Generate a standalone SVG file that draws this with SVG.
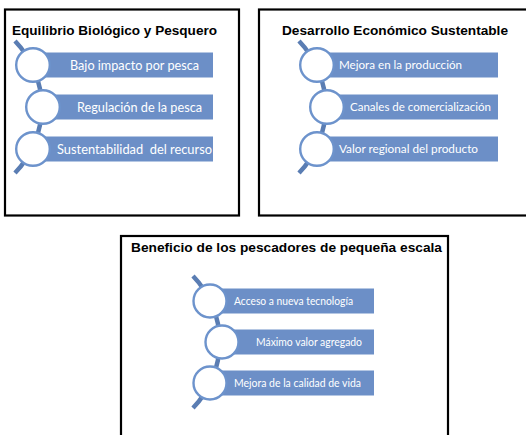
<svg xmlns="http://www.w3.org/2000/svg" width="526" height="435" viewBox="0 0 526 435">
<style>
.frame{fill:#fff;stroke:#000;stroke-width:2.2}
.title{font-family:"Liberation Sans",Arial,sans-serif;font-weight:bold;fill:#000}
.bar{fill:#6c8fc7}
.ring{fill:#fff;stroke:#6d93cc;stroke-width:2.4}
.spine{fill:none;stroke:#5a7db3;stroke-width:4.5}
.lbl{font-family:Lato,"Open Sans",sans-serif;fill:#fff}
</style>
<rect width="526" height="435" fill="#fff"/>
<g id="panel1">
<rect class="frame" x="5" y="9.5" width="234" height="206"/>
<text class="title" x="12" y="35" font-size="12" textLength="205" lengthAdjust="spacingAndGlyphs">Equilibrio Biológico y Pesquero</text>
<path class="spine" d="M15,41 A95,95 0 0 1 15,173"/>
<rect class="bar" x="33" y="52.5" width="180" height="25"/>
<rect class="bar" x="43" y="94.5" width="170" height="25"/>
<rect class="bar" x="33" y="136.5" width="180" height="25"/>
<circle class="ring" cx="33" cy="65" r="16.8"/>
<circle class="ring" cx="43" cy="107" r="16.8"/>
<circle class="ring" cx="33" cy="149" r="16.8"/>
<text class="lbl" x="70" y="69.5" font-size="12.5" textLength="129" lengthAdjust="spacingAndGlyphs">Bajo impacto por pesca</text>
<text class="lbl" x="77" y="111.5" font-size="12.5" textLength="125" lengthAdjust="spacingAndGlyphs">Regulación de la pesca</text>
<text class="lbl" x="57" y="153.5" font-size="12.5" textLength="155" lengthAdjust="spacingAndGlyphs" xml:space="preserve">Sustentabilidad  del recurso</text>
</g>
<g id="panel2">
<rect class="frame" x="259" y="9.5" width="280" height="206"/>
<text class="title" x="282" y="35" font-size="12" textLength="226" lengthAdjust="spacingAndGlyphs">Desarrollo Económico Sustentable</text>
<path class="spine" d="M299,41 A95,95 0 0 1 299,173"/>
<rect class="bar" x="317" y="52.5" width="181" height="25"/>
<rect class="bar" x="327" y="94.5" width="171" height="25"/>
<rect class="bar" x="317" y="136.5" width="181" height="25"/>
<circle class="ring" cx="317" cy="65" r="16.8"/>
<circle class="ring" cx="327" cy="107" r="16.8"/>
<circle class="ring" cx="317" cy="149" r="16.8"/>
<text class="lbl" x="339" y="69" font-size="11.6" textLength="123" lengthAdjust="spacingAndGlyphs">Mejora en la producción</text>
<text class="lbl" x="350" y="111" font-size="11.6" textLength="141" lengthAdjust="spacingAndGlyphs">Canales de comercialización</text>
<text class="lbl" x="339" y="153" font-size="11.6" textLength="139" lengthAdjust="spacingAndGlyphs">Valor regional del producto</text>
</g>
<g id="panel3">
<rect class="frame" x="121" y="236" width="327" height="220"/>
<text class="title" x="131" y="252" font-size="13" textLength="311" lengthAdjust="spacingAndGlyphs">Beneficio de los pescadores de pequeña escala</text>
<path class="spine" d="M193,276 A95,95 0 0 1 193,408"/>
<rect class="bar" x="210" y="288.5" width="164" height="25"/>
<rect class="bar" x="222" y="329.5" width="152" height="25"/>
<rect class="bar" x="210" y="370.5" width="164" height="25"/>
<circle class="ring" cx="210" cy="301" r="16.5"/>
<circle class="ring" cx="222" cy="342" r="16.5"/>
<circle class="ring" cx="210" cy="383" r="16.5"/>
<text class="lbl" x="234" y="304.5" font-size="10.5" textLength="119" lengthAdjust="spacingAndGlyphs">Acceso a nueva tecnología</text>
<text class="lbl" x="256" y="345.5" font-size="10.5" textLength="106" lengthAdjust="spacingAndGlyphs">Máximo valor agregado</text>
<text class="lbl" x="234" y="386.5" font-size="10.5" textLength="127" lengthAdjust="spacingAndGlyphs">Mejora de la calidad de vida</text>
</g>
</svg>
